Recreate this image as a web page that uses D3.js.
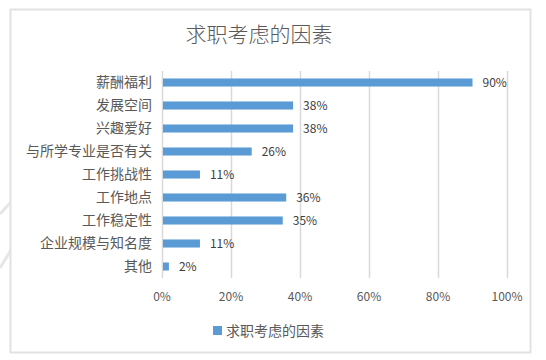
<!DOCTYPE html>
<html>
<head>
<meta charset="utf-8">
<script src="https://cdn.jsdelivr.net/npm/d3@7"></script>
<style>
  html, body { margin: 0; padding: 0; background: #fff; }
  svg { display: block; font-family: "Noto Sans CJK SC", "Noto Sans", sans-serif; }
</style>
</head>
<body>
<div id="chart"></div>
<script>
// data
const categories = ["薪酬福利", "发展空间", "兴趣爱好", "与所学专业是否有关", "工作挑战性", "工作地点", "工作稳定性", "企业规模与知名度", "其他"];
const values = [0.90, 0.38, 0.38, 0.26, 0.11, 0.36, 0.35, 0.11, 0.02];
const xTicks = [0, 0.2, 0.4, 0.6, 0.8, 1.0];
const chartTitle = "求职考虑的因素";
const seriesName = "求职考虑的因素";

const width = 546, height = 360;
const margin = { top: 71, right: 39, bottom: 82, left: 162 };

const svg = d3.select("#chart").append("svg")
    .attr("width", width)
    .attr("height", height);

// faint background strokes outside the chart box
svg.append("g")
    .attr("stroke", "#e6e6e6")
    .attr("stroke-width", 3)
    .selectAll("line")
    .data([[0, 214, 11, 202], [0, 268, 11, 250]])
    .join("line")
    .attr("x1", d => d[0]).attr("y1", d => d[1])
    .attr("x2", d => d[2]).attr("y2", d => d[3]);

// chart box
svg.append("rect")
    .attr("x", 10.5).attr("y", 9.5)
    .attr("width", 520).attr("height", 343)
    .attr("fill", "#fff")
    .attr("stroke", "#e2e2e2")
    .attr("stroke-width", 2);

const x = d3.scaleLinear()
    .domain([0, 1])
    .range([margin.left, width - margin.right]);

const y = d3.scaleBand()
    .domain(categories)
    .range([margin.top, height - margin.bottom])
    .paddingInner(0.65)
    .paddingOuter(0.325);

// ── Gridlines ──────────────────────────────────────────────
svg.append("g")
    .selectAll("line")
    .data(xTicks)
    .join("line")
    .attr("x1", d => Math.round(x(d)) + 0.5)
    .attr("x2", d => Math.round(x(d)) + 0.5)
    .attr("y1", margin.top)
    .attr("y2", height - margin.bottom)
    .attr("stroke", "#d9d9d9")
    .attr("stroke-width", 1.5);

// ── Bars ───────────────────────────────────────────────────
svg.append("g")
    .selectAll("rect")
    .data(categories)
    .join("rect")
    .attr("x", x(0) + 1)
    .attr("y", d => y(d))
    .attr("width", (d, i) => x(values[i]) - x(0) - 1)
    .attr("height", y.bandwidth())
    .attr("fill", "#5b9bd5");

// value labels
svg.append("g")
    .selectAll("text")
    .data(categories)
    .join("text")
    .attr("x", (d, i) => x(values[i]) + 10)
    .attr("y", d => y(d) + y.bandwidth() / 2)
    .attr("dy", "0.35em")
    .attr("font-size", "12px")
    .attr("fill", "#404040")
    .text((d, i) => Math.round(values[i] * 100) + "%");

// category labels
svg.append("g")
    .selectAll("text")
    .data(categories)
    .join("text")
    .attr("x", margin.left - 10)
    .attr("y", d => y(d) + y.bandwidth() / 2)
    .attr("dy", "0.35em")
    .attr("text-anchor", "end")
    .attr("font-size", "14px")
    .attr("fill", "#595959")
    .text(d => d);

// x tick labels
svg.append("g")
    .selectAll("text")
    .data(xTicks)
    .join("text")
    .attr("x", d => x(d))
    .attr("y", 297)
    .attr("dy", "0.35em")
    .attr("text-anchor", "middle")
    .attr("font-size", "12px")
    .attr("fill", "#595959")
    .text(d3.format(".0%"));

// ── Title & legend ─────────────────────────────────────────
svg.append("text")
    .attr("x", 259)
    .attr("y", 35)
    .attr("dy", "0.35em")
    .attr("text-anchor", "middle")
    .attr("font-size", "21px")
    .attr("font-weight", 300)
    .attr("fill", "#595959")
    .text(chartTitle);

svg.append("rect")
    .attr("x", 213).attr("y", 326)
    .attr("width", 9).attr("height", 9)
    .attr("fill", "#5b9bd5");

svg.append("text")
    .attr("x", 226)
    .attr("y", 331)
    .attr("dy", "0.35em")
    .attr("font-size", "14px")
    .attr("fill", "#595959")
    .text(seriesName);
</script>
</body>
</html>
